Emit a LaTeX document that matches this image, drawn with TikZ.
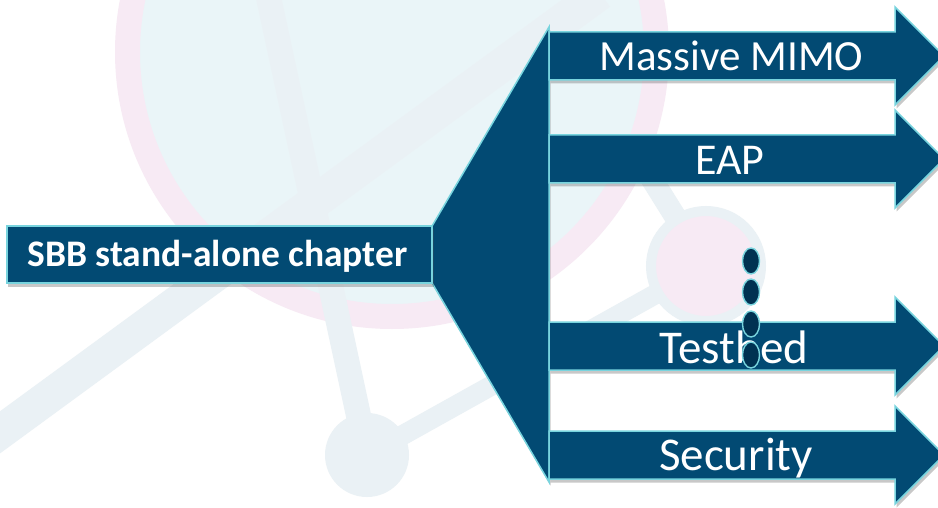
\documentclass[tikz,border=0pt]{standalone}
\usepackage{fontspec}
\setmainfont{Carlito}
\usetikzlibrary{shadows,shapes.geometric}
\definecolor{mainblue}{RGB}{2,74,115}
\definecolor{edgecyan}{RGB}{120,212,222}
\definecolor{dotblue}{RGB}{0,50,82}
\definecolor{bgblue}{RGB}{234,245,248}
\definecolor{bgpink}{RGB}{247,234,244}
\definecolor{bgline}{RGB}{234,241,245}
\begin{document}
\begin{tikzpicture}[x=1pt,y=-1pt,
  blueshape/.style={fill=mainblue,draw=edgecyan,line width=1.5pt,line join=miter,
    drop shadow={shadow xshift=1.5pt,shadow yshift=-3.5pt,opacity=0.3,fill=black!70}},
  bgstripe/.style={draw=bgline,line width=#1},
  lbl/.style={text=white,inner sep=0pt,anchor=base},
  dotnode/.style={ellipse,draw=edgecyan,line width=1.4pt,fill=dotblue,minimum width=17pt,minimum height=26pt,inner sep=0pt},
]
\useasboundingbox (0,0) rectangle (938,508);
\clip (0,0) rectangle (938,508);
% background
\fill[white] (0,0) rectangle (938,508);
\draw[bgstripe=22pt] (706,266) -- (615,120);
\draw[bgpink,line width=25pt,fill=bgblue] (392,52) circle[radius=264.5];
\draw[bgstripe=25pt] (268,-5) -- (367,455);
\draw[bgstripe=34pt] (-20,447) -- (600,-7);
\draw[bgstripe=20pt] (367,455) -- (706,266);
\fill[bgline] (367,455) circle[radius=42];
\draw[bgline,line width=10pt,fill=bgpink] (706,266) circle[radius=55];
% left box (placed, drawn after fan)
\path node[minimum width=425pt,minimum height=57pt,inner sep=0pt] (sbb) at (219.5,254.5) {};
\coordinate (fantop) at (549,27);
\coordinate (fanbot) at (549,482);
\draw[blueshape] (sbb.north east) -- (fantop) -- (fanbot) -- (sbb.south east) -- cycle;
\draw[blueshape] (sbb.north west) rectangle (sbb.south east);
\node[lbl,font=\bfseries\fontsize{37.5}{45}\selectfont] (sbbtext) at (217.5,266) {SBB stand-alone chapter};
% arrows
\foreach \c in {56,159,346,455}{
  \draw[blueshape] (549,\c-24) -- (895,\c-24) -- (895,\c-49) -- (944,\c) -- (895,\c+49) -- (895,\c+24) -- (549,\c+24) -- cycle;
}
\node[lbl,font=\fontsize{43}{52}\selectfont] (t1) at (731.5,71) {Massive MIMO};
\node[lbl,font=\fontsize{44}{53}\selectfont] (t2) at (730,175) {EAP};
\node[lbl,font=\fontsize{47}{56}\selectfont] (t3) at (734,363) {Testbed};
\node[lbl,font=\fontsize{47}{56}\selectfont] (t4) at (736,470) {Security};
% dots
\node[dotnode] (d1) at (751,261) {};
\node[dotnode] (d2) at (751,292) {};
\node[dotnode] (d3) at (751,324) {};
\node[dotnode] (d4) at (751,355) {};
\end{tikzpicture}
\end{document}
